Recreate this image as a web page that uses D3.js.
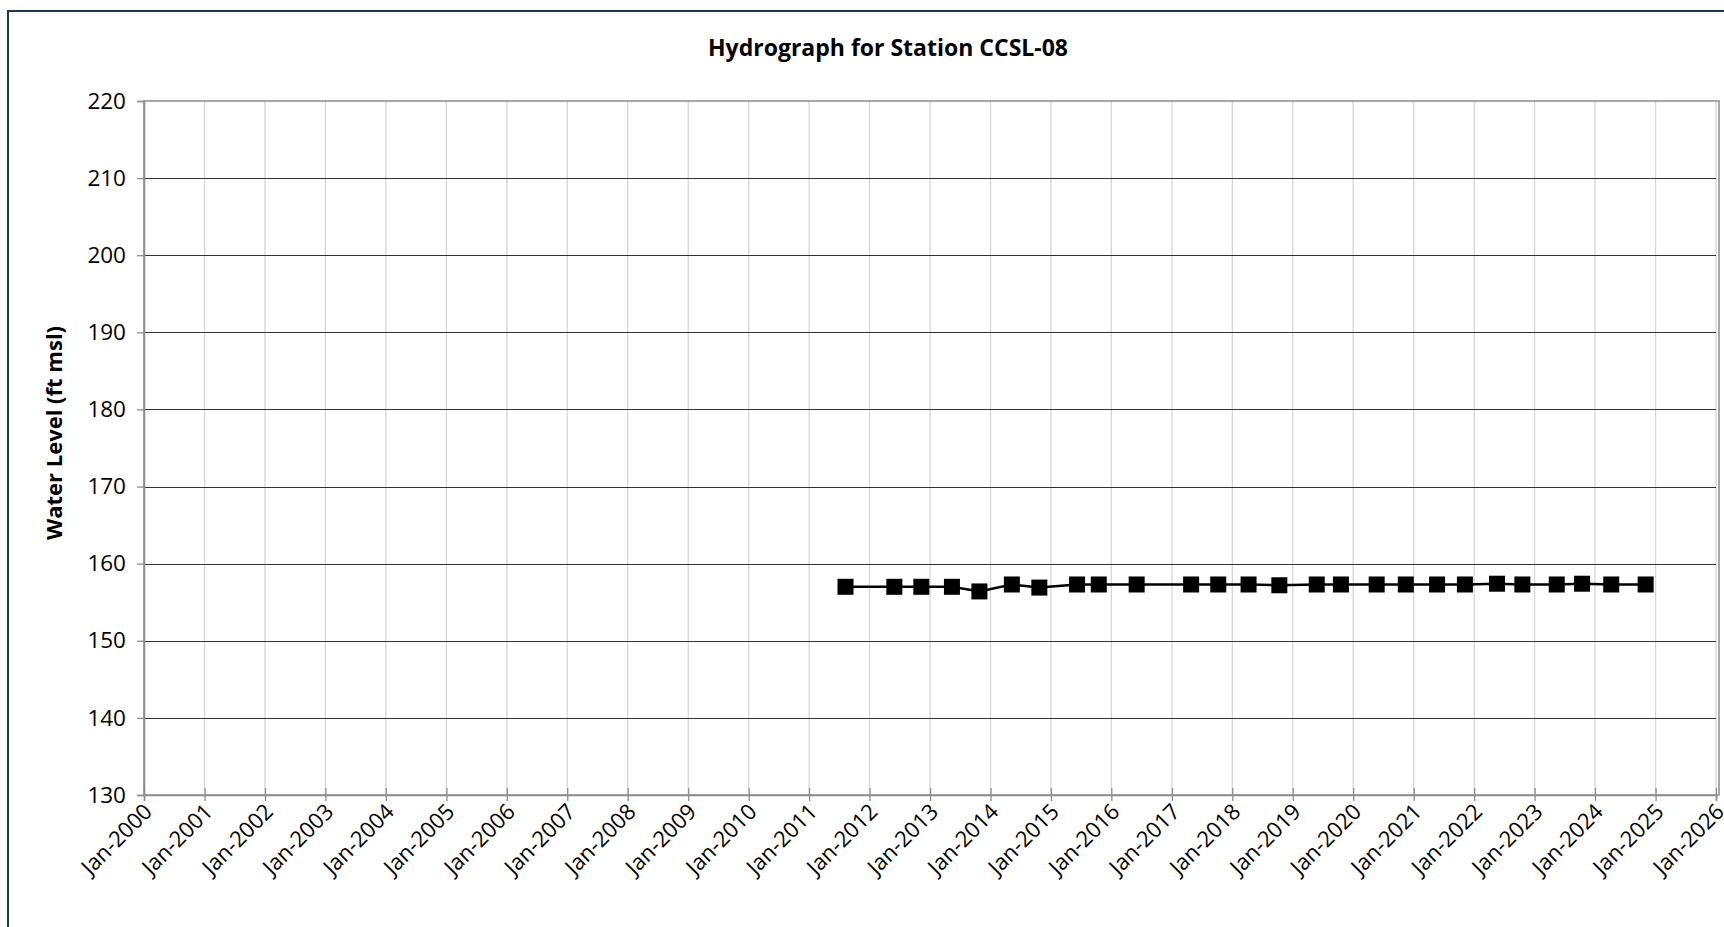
<!DOCTYPE html>
<html>
<head>
<meta charset="utf-8">
<script src="https://cdn.jsdelivr.net/npm/d3@7"></script>
<style>
	html, body { margin: 0; padding: 0; background: #fff; overflow: hidden; }
	text { font-family: "Open Sans", "Noto Sans", sans-serif; fill: #000; }
</style>
</head>
<body>
<svg id="viz" width="1724" height="927"></svg>
<script>

var sampleDates = ["2011-08-09", "2012-05-30", "2012-11-09", "2013-05-13", "2013-10-26",
	"2014-05-10", "2014-10-23", "2015-06-08", "2015-10-17", "2016-06-02", "2017-04-27",
	"2017-10-08", "2018-04-09", "2018-10-12", "2019-05-26", "2019-10-19", "2020-05-22",
	"2020-11-14", "2021-05-22", "2021-11-06", "2022-05-19", "2022-10-19", "2023-05-15",
	"2023-10-15", "2024-04-08", "2024-11-02"];
var waterLevels = [157.0, 157.0, 157.0, 157.0, 156.4, 157.3, 156.9, 157.3, 157.3, 157.3,
	157.3, 157.3, 157.3, 157.2, 157.3, 157.3, 157.3, 157.3, 157.3, 157.3, 157.4, 157.3,
	157.3, 157.4, 157.3, 157.3];
var yTicks = [130, 140, 150, 160, 170, 180, 190, 200, 210, 220];
var tickYears = d3.range(2000, 2027);

var chartTitle = "Hydrograph for Station CCSL-08",
	yTitle = "Water Level (ft msl)";

var parseDate = d3.timeParse("%Y-%m-%d"),
	fmt = d3.timeFormat("%b-%Y");

var points = sampleDates.map((d, i) => {return {date: parseDate(d), level: waterLevels[i]}});

// Sizes (window.top is read-only, so no bare "top")

var svg = d3.select("svg"),
	plotLeft = 144,
	plotRight = 1716,
	plotTop = 101,
	plotBottom = 795;

var x = d3.scaleTime()
	.domain([new Date(2000, 0, 1), new Date(2026, 0, 1)])
	.range([plotLeft, plotRight]);

var y = d3.scaleLinear()
	.domain([130, 220])
	.range([plotBottom, plotTop]);

// Outer frame

svg.append("rect")
	.attr("x", 8)
	.attr("y", 11)
	.attr("width", 1800)
	.attr("height", 1000)
	.attr("fill", "none")
	.attr("stroke", "#1d3656")
	.attr("stroke-width", 2);

// Title

svg.append("text")
	.attr("x", 888)
	.attr("y", 56)
	.attr("text-anchor", "middle")
	.style("font-size", "23px")
	.style("font-weight", "bold")
	.text(chartTitle);

// Vertical grid (years)

var tickDates = tickYears.map(yr => new Date(yr, 0, 1));

svg.append("g")
	.attr("class", "xgrid")
	.selectAll("line")
	.data(tickDates)
	.enter()
	.append("line")
	.attr("x1", d => x(d))
	.attr("x2", d => x(d))
	.attr("y1", plotTop)
	.attr("y2", plotBottom)
	.style("stroke", "#d6d6d6")
	.style("stroke-width", 1.3);

// Horizontal grid

svg.append("g")
	.attr("class", "ygrid")
	.selectAll("line")
	.data(yTicks.filter(v => v != 130 && v != 220))
	.enter()
	.append("line")
	.attr("x1", plotLeft)
	.attr("x2", plotRight)
	.attr("y1", d => Math.round(y(d)) + 0.5)
	.attr("y2", d => Math.round(y(d)) + 0.5)
	.style("stroke", "#333")
	.style("stroke-width", 1.2);

// Plot border

svg.append("rect")
	.attr("x", plotLeft)
	.attr("y", plotTop)
	.attr("width", plotRight - plotLeft + 3)
	.attr("height", plotBottom - plotTop)
	.attr("fill", "none")
	.style("stroke", "#8c8c8c")
	.style("stroke-width", 1.5);

// Y axis

var yAxis = svg.append("g")
	.attr("transform", "translate(" + plotLeft + ",0)")
	.call(d3.axisLeft(y).tickValues(yTicks).tickSize(7).tickPadding(11));

yAxis.select(".domain").style("stroke", "#8c8c8c").style("stroke-width", 1.5);
yAxis.selectAll(".tick line").style("stroke", "#8c8c8c").style("stroke-width", 1.3);
yAxis.selectAll("text")
	.style("font-size", "22.5px")
	.style("font-family", "'Open Sans', sans-serif")
	.attr("fill", "#000");

svg.append("text")
	.attr("transform", "translate(54," + ((plotTop + plotBottom) / 2 - 15) + ") rotate(-90)")
	.attr("text-anchor", "middle")
	.attr("dy", "0.35em")
	.style("font-size", "22px")
	.style("font-weight", "bold")
	.text(yTitle);

// X axis

var xAxis = svg.append("g")
	.attr("transform", "translate(0," + plotBottom + ")")
	.call(d3.axisBottom(x).tickValues(tickDates).tickSize(6).tickFormat(fmt));

xAxis.select(".domain").style("stroke", "#8c8c8c").style("stroke-width", 1.5);
xAxis.selectAll(".tick line")
	.attr("y1", -7)
	.style("stroke", "#8c8c8c")
	.style("stroke-width", 1.3);
xAxis.selectAll("text")
	.attr("y", 0)
	.attr("dy", 0)
	.attr("transform", "translate(9,18) rotate(-45)")
	.attr("text-anchor", "end")
	.style("font-size", "22px")
	.style("font-family", "'Open Sans', sans-serif")
	.attr("fill", "#000");

// Series line and markers

var line = d3.line()
	.x(d => x(d.date))
	.y(d => y(d.level));

svg.append("path")
	.datum(points)
	.attr("d", line)
	.attr("fill", "none")
	.style("stroke", "#000")
	.style("stroke-width", 2.5);

var markerSize = 16;

svg.append("g")
	.attr("class", "markers")
	.selectAll("rect")
	.data(points)
	.enter()
	.append("rect")
	.attr("x", d => x(d.date) - markerSize / 2)
	.attr("y", d => y(d.level) - markerSize / 2)
	.attr("width", markerSize)
	.attr("height", markerSize)
	.attr("fill", "#000");

</script>
</body>
</html>
